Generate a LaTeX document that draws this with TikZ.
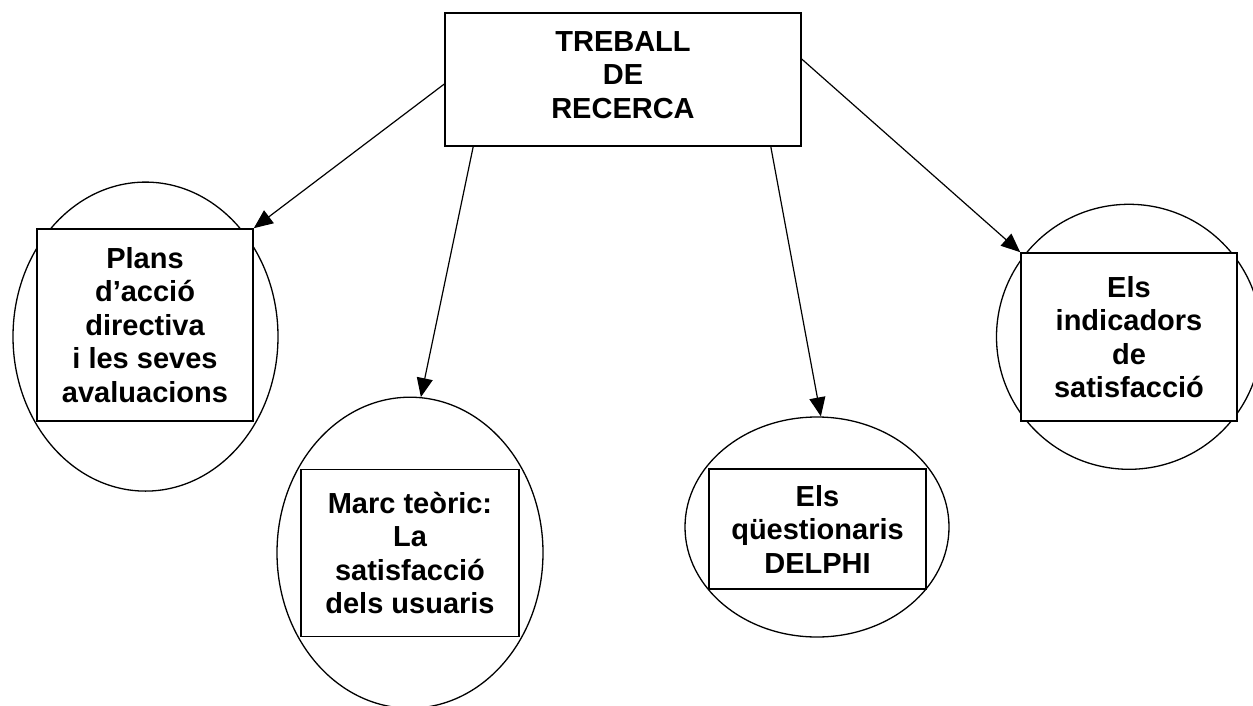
\documentclass[tikz,border=0pt]{standalone}
\usepackage{fontspec}
\setmainfont{Liberation Sans}
\usetikzlibrary{shapes.geometric,arrows.meta}
\begin{document}
\begin{tikzpicture}[x=1pt,y=-1pt,
  every node/.style={font=\fontsize{29}{33.5}\selectfont\bfseries},
  ring/.style={draw,ellipse,inner sep=0pt,line width=1.3pt},
  topicbox/.style={draw,fill=white,rectangle,inner sep=0pt,align=center,line width=1.6pt},
  boxtext/.style={inner sep=0pt,align=center},
  link/.style={-{Triangle[length=19pt,width=16pt]},line width=1.2pt}]
\useasboundingbox (0,0) rectangle (1253,706);
\clip (0,0) rectangle (1253,706);

% outer ellipses
\node[ring,minimum width=265pt,minimum height=309pt] (e1) at (145.5,336.6) {};
\node[ring,minimum width=266pt,minimum height=311pt] (e2) at (410,552.7) {};
\node[ring,minimum width=264pt,minimum height=220pt] (e3) at (817,527) {};
\node[ring,minimum width=265pt,minimum height=265pt] (e4) at (1129,336.8) {};

% title box, its text sits a little above the middle
\node[topicbox,minimum width=356pt,minimum height=133pt] (top) at (623,79.4) {};
\node[boxtext] (toptext) at (623,75) {TREBALL\\DE\\RECERCA};

% topic boxes
\node[topicbox,minimum width=216pt,minimum height=192pt] (b1) at (145,325) {Plans\\d’acció\\directiva\\i les seves\\avaluacions};
\node[topicbox,minimum width=218pt,minimum height=167pt] (b2) at (410,553) {Marc teòric:\\La\\satisfacció\\dels usuaris};
\node[topicbox,minimum width=217pt,minimum height=120pt] (b3) at (817.5,529) {Els\\qüestionaris\\DELPHI};
\node[topicbox,minimum width=216pt,minimum height=168pt] (b4) at (1129,337) {Els\\indicadors\\de\\satisfacció};

% connectors
\draw[link] ([shift={(0,72)}]top.north west) -- (b1.north east);
\draw[link] ([shift={(29,0)}]top.south west) -- (e2.86);
\draw[link] ([shift={(-31,0)}]top.south east) -- (e3.88);
\draw[link] ([shift={(0,47)}]top.north east) -- (b4.north west);
\end{tikzpicture}
\end{document}
